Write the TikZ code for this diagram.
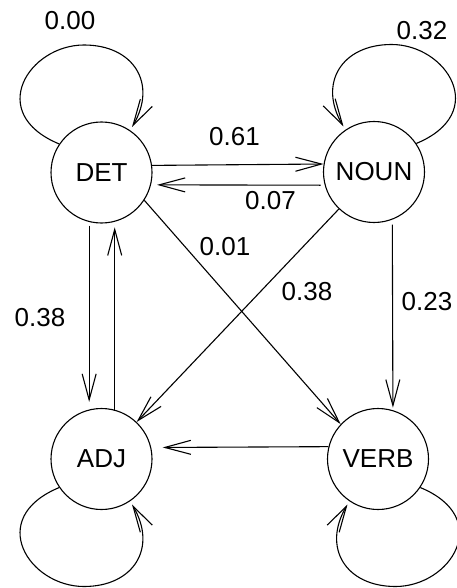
\documentclass[tikz,border=0pt]{standalone}
\usepackage{fontspec}
\setmainfont{Liberation Sans}
\usetikzlibrary{arrows.meta,calc}

\begin{document}
\begin{tikzpicture}[x=1pt,y=-1pt,
  line width=1.1pt,
  state/.style={draw,circle,minimum size=101pt,inner sep=0pt,
    font=\fontsize{26}{31}\selectfont},
  prob/.style={inner sep=0pt,font=\fontsize{26}{31}\selectfont},
  arr/.style={-{Straight Barb[length=26pt,width=14pt,line width=1.1pt]}},
]
\useasboundingbox (0,0) rectangle (456,588);

% states
\node[state] (DET)  at (101.5,172.5) {DET};
\node[state] (NOUN) at (374,172)     {NOUN};
\node[state] (ADJ)  at (101.5,459)   {ADJ};
\node[state] (VERB) at (378,459)     {VERB};

% transitions between states
\draw[arr] (DET.8.5) -- (NOUN.171.5);
\draw[arr,shorten <=4pt,shorten >=6pt] (NOUN.-165) -- (DET.-14.3);
\draw[arr] (DET.-33) -- (VERB.137);
\draw[arr] (NOUN) -- (ADJ);
\draw[arr,shorten <=3.5pt,shorten >=7.5pt] (DET.-104.3) -- (ADJ.104.3);
\draw[arr,shorten >=5.5pt] (ADJ.75.7) -- (DET.-75.7);
\draw[arr,shorten <=5pt,shorten >=2.5pt] (NOUN.-69.3) -- (VERB.73.9);
\draw[arr,shorten >=11.5pt] (VERB.166.3) -- (ADJ.13.7);

% self-loops
\draw[arr] (DET.146)
  .. controls ($(DET)+(-116.3,-59.2)$) and ($(DET)+(-72.5,-127.5)$) .. ($(DET)+(-17.5,-127.5)$)
  .. controls ($(DET)+(32.5,-127.5)$) and ($(DET)+(56,-88.5)$) .. ($(DET)+(30.5,-45.5)$);
\draw[arr] (NOUN.34)
  .. controls ($(NOUN)+(116.3,-59.2)$) and ($(NOUN)+(72.5,-127.5)$) .. ($(NOUN)+(17.5,-127.5)$)
  .. controls ($(NOUN)+(-32.5,-127.5)$) and ($(NOUN)+(-56,-88.5)$) .. ($(NOUN)+(-30.5,-45.5)$);
\draw[arr] (ADJ.-146)
  .. controls ($(ADJ)+(-116.3,59.2)$) and ($(ADJ)+(-72.5,127.5)$) .. ($(ADJ)+(-17.5,127.5)$)
  .. controls ($(ADJ)+(32.5,127.5)$) and ($(ADJ)+(56,88.5)$) .. ($(ADJ)+(30.5,45.5)$);
\draw[arr] (VERB.-34)
  .. controls ($(VERB)+(116.3,59.2)$) and ($(VERB)+(72.5,127.5)$) .. ($(VERB)+(17.5,127.5)$)
  .. controls ($(VERB)+(-32.5,127.5)$) and ($(VERB)+(-56,88.5)$) .. ($(VERB)+(-30.5,45.5)$);

% transition probabilities
\node[prob] (pDD) at (70,20.5)   {0.00};
\node[prob] (pNN) at (422,31)    {0.32};
\node[prob] (pDN) at (234.5,137) {0.61};
\node[prob] (pND) at (270.5,201) {0.07};
\node[prob] (pDV) at (225,247)   {0.01};
\node[prob] (pNA) at (307,292)   {0.38};
\node[prob] (pNV) at (427,302)   {0.23};
\node[prob] (pDA) at (40,318)    {0.38};
\end{tikzpicture}
\end{document}
